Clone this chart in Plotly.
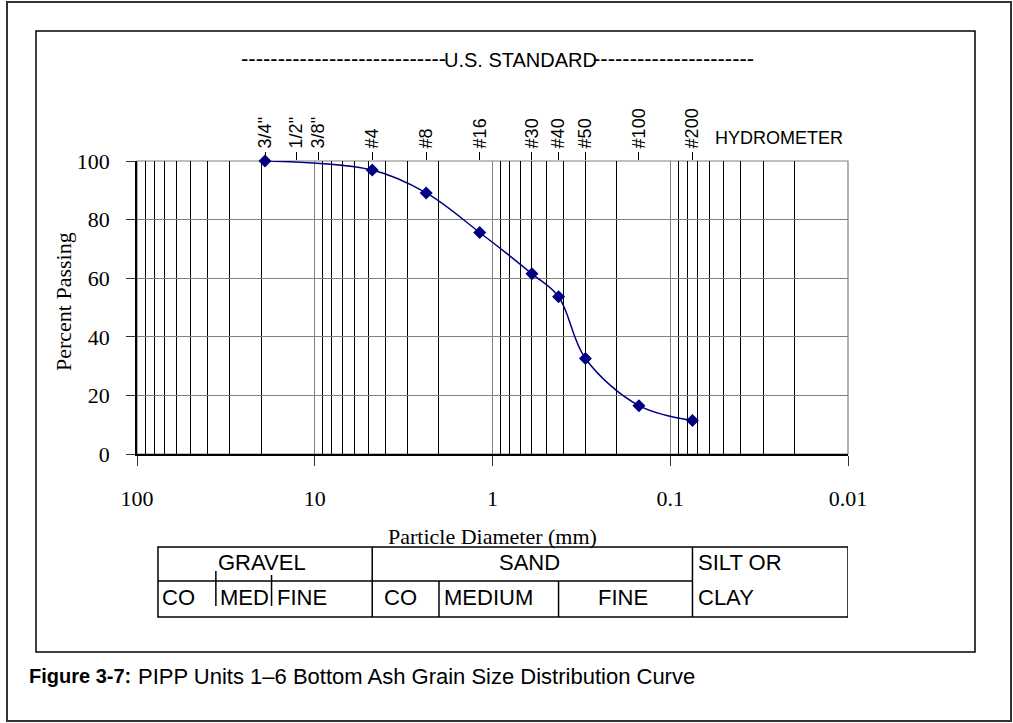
import numpy as np
import plotly.graph_objects as go

# ---------------- data ----------------
sieve_labels = ['3/4"', '1/2"', '3/8"', '#4', '#8', '#16', '#30', '#40', '#50', '#100', '#200']
sieve_mm = [19.05, 12.7, 9.525, 4.75, 2.36, 1.18, 0.6, 0.425, 0.3, 0.15, 0.075]

test_sieve_mm = [19.05, 4.75, 2.36, 1.18, 0.6, 0.425, 0.3, 0.15, 0.075]
percent_passing = [100, 96.9, 89.1, 75.6, 61.5, 53.7, 32.6, 16.5, 11.4]

x_tick_vals = [100, 10, 1, 0.1, 0.01]
x_tick_text = ["100", "10", "1", "0.1", "0.01"]
y_tick_vals = [0, 20, 40, 60, 80, 100]

# soil classification table below the chart
main_labels = ["GRAVEL", "SAND"]
main_bounds_mm = [76.2, 4.75, 0.075]
sub_labels = ["CO", "MED", "FINE", "CO", "MEDIUM", "FINE"]
sub_bounds_mm = [76.2, 36.0, 17.5, 4.75, 2.0, 0.425, 0.075]
fines_label = ["SILT OR", "CLAY"]
table_end_mm = 0.01

# ---------------- geometry helpers ----------------
W, H = 1013, 723
L, R, T, B = 137, 848, 161, 454


def px(x):
    return (x - L) / (R - L)


def py(y):
    return (B - y) / (B - T)


def lx(v):
    return float(np.log10(v))


ARIAL = "Liberation Sans, Arial, sans-serif"
TIMES = "Liberation Serif, Times New Roman, serif"
NAVY = "#000080"

fig = go.Figure()
fig.add_trace(go.Scatter(
    x=test_sieve_mm, y=percent_passing, mode="lines+markers",
    line=dict(color=NAVY, width=1.5, shape="spline", smoothing=1.0),
    marker=dict(symbol="diamond", size=10, color=NAVY),
    showlegend=False, cliponaxis=False, hoverinfo="x+y"))
fig.add_trace(go.Scatter(
    x=sieve_mm, y=[None] * len(sieve_mm), xaxis="x2", mode="markers",
    showlegend=False, hoverinfo="skip"))

shapes = []
# outer and inner frames
shapes.append(dict(type="rect", xref="paper", yref="paper",
                   x0=px(7), x1=px(1011), y0=py(721), y1=py(2),
                   line=dict(color="#333333", width=2), layer="below"))
shapes.append(dict(type="rect", xref="paper", yref="paper",
                   x0=px(36), x1=px(975), y0=py(652), y1=py(31),
                   line=dict(color="black", width=1.5), layer="below"))
# plot-area frame (gray top/right)
shapes.append(dict(type="rect", xref="paper", yref="paper",
                   x0=0, x1=1, y0=0, y1=1,
                   line=dict(color="#808080", width=1.2), layer="below"))

# table (shape x values are data values on the log axis)
t_top, t_mid, t_bot = py(547), py(581), py(617)
tl = dict(color="black", width=1.5)
shapes.append(dict(type="rect", xref="x", yref="paper",
                   x0=main_bounds_mm[0], x1=table_end_mm, y0=t_bot, y1=t_top, line=tl))
shapes.append(dict(type="line", xref="x", yref="paper",
                   x0=main_bounds_mm[0], x1=main_bounds_mm[-1], y0=t_mid, y1=t_mid, line=tl))
for b in main_bounds_mm[1:]:
    shapes.append(dict(type="line", xref="x", yref="paper",
                       x0=b, x1=b, y0=t_bot, y1=t_top, line=tl))
# sand sub-dividers
for b in sub_bounds_mm[4:6]:
    shapes.append(dict(type="line", xref="x", yref="paper",
                       x0=b, x1=b, y0=t_bot, y1=t_mid, line=tl))
# gravel sub-dividers (short)
shapes.append(dict(type="line", xref="x", yref="paper",
                   x0=sub_bounds_mm[1], x1=sub_bounds_mm[1], y0=py(606), y1=py(571), line=tl))
shapes.append(dict(type="line", xref="x", yref="paper",
                   x0=sub_bounds_mm[2], x1=sub_bounds_mm[2], y0=py(606), y1=py(575), line=tl))

ann = []
tfont = dict(family=ARIAL, size=22, color="black")
row1_y, row2_y = py(562), py(597)
for i, lab in enumerate(main_labels):
    cx = (lx(main_bounds_mm[i]) + lx(main_bounds_mm[i + 1])) / 2
    ann.append(dict(x=cx, y=row1_y, xref="x", yref="paper", text=lab, showarrow=False,
                    xanchor="center", yanchor="middle", xshift=-3, font=tfont))
ann.append(dict(x=lx(main_bounds_mm[-1]), y=row1_y, xref="x", yref="paper", text=fines_label[0],
                showarrow=False, xanchor="left", yanchor="middle", xshift=4, font=tfont))
ann.append(dict(x=lx(main_bounds_mm[-1]), y=row2_y, xref="x", yref="paper", text=fines_label[1],
                showarrow=False, xanchor="left", yanchor="middle", xshift=4, font=tfont))
sub_shift = [2, 2, 3, 10, 3, None]
for i, lab in enumerate(sub_labels):
    if sub_shift[i] is None:
        cx = (lx(sub_bounds_mm[i]) + lx(sub_bounds_mm[i + 1])) / 2
        ann.append(dict(x=cx, y=row2_y, xref="x", yref="paper", text=lab, showarrow=False,
                        xanchor="center", yanchor="middle", xshift=-3, font=tfont))
    else:
        ann.append(dict(x=lx(sub_bounds_mm[i]), y=row2_y, xref="x", yref="paper", text=lab,
                        showarrow=False, xanchor="left", yanchor="middle", xshift=sub_shift[i], font=tfont))

# titles and headers
ann.append(dict(x=px(492), y=py(536), xref="paper", yref="paper", text="Particle Diameter (mm)",
                showarrow=False, xanchor="center", yanchor="middle",
                font=dict(family=TIMES, size=22, color="black")))
ann.append(dict(x=px(63), y=py(302), xref="paper", yref="paper", text="Percent Passing",
                showarrow=False, xanchor="center", yanchor="middle", textangle=-90,
                font=dict(family=TIMES, size=22, color="black")))
ann.append(dict(x=px(713), y=py(138), xref="paper", yref="paper", text="HYDROMETER",
                showarrow=False, xanchor="left", yanchor="middle",
                font=dict(family=ARIAL, size=18, color="black")))
ann.append(dict(x=px(520), y=py(60), xref="paper", yref="paper", text="U.S. STANDARD",
                showarrow=False, xanchor="center", yanchor="middle",
                font=dict(family=ARIAL, size=20, color="black")))
ann.append(dict(x=px(445), y=py(58), xref="paper", yref="paper", text="-" * 28,
                showarrow=False, xanchor="right", yanchor="middle", xshift=3,
                font=dict(family=ARIAL, size=22, color="black")))
ann.append(dict(x=px(594), y=py(58), xref="paper", yref="paper", text="-" * 22,
                showarrow=False, xanchor="left", yanchor="middle", xshift=-3,
                font=dict(family=ARIAL, size=22, color="black")))
# caption
ann.append(dict(x=px(27), y=py(676), xref="paper", yref="paper",
                text="<b>Figure 3-7:</b>",
                showarrow=False, xanchor="left", yanchor="middle",
                font=dict(family=ARIAL, size=20, color="black")))
ann.append(dict(x=px(136), y=py(676), xref="paper", yref="paper",
                text="PIPP Units 1\u20136 Bottom Ash Grain Size Distribution Curve",
                showarrow=False, xanchor="left", yanchor="middle",
                font=dict(family=ARIAL, size=22, color="black")))

fig.update_layout(
    width=W, height=H,
    margin=dict(l=L, r=W - R, t=T, b=H - B, pad=0),
    paper_bgcolor="white", plot_bgcolor="white",
    showlegend=False,
    xaxis=dict(type="log", range=[2, -2], tickmode="array", tickvals=x_tick_vals, ticktext=x_tick_text,
               ticks="outside", ticklen=10, tickcolor="#333333", tickwidth=1.2,
               showline=True, linecolor="black", linewidth=1.5,
               showgrid=True, gridcolor="#808080", gridwidth=1, zeroline=False,
               minor=dict(dtick="D1", showgrid=True, gridcolor="black", gridwidth=1, ticks=""),
               tickfont=dict(family=TIMES, size=22, color="black"), ticklabelstandoff=14),
    xaxis2=dict(type="log", range=[2, -2], overlaying="x", side="top", anchor="y",
                tickmode="array", tickvals=sieve_mm, ticktext=sieve_labels, tickangle=-90,
                ticks="outside", ticklen=8, tickcolor="black", tickwidth=1.2,
                showgrid=False, showline=False, zeroline=False,
                tickfont=dict(family=ARIAL, size=18, color="black")),
    yaxis=dict(range=[0, 100], tickmode="array", tickvals=y_tick_vals,
               ticks="outside", ticklen=9, tickcolor="#333333", tickwidth=1.2,
               showline=True, linecolor="black", linewidth=1.5,
               showgrid=True, gridcolor="#808080", gridwidth=1, zeroline=False,
               tickfont=dict(family=TIMES, size=22, color="black"), ticklabelstandoff=12),
    shapes=shapes, annotations=ann,
)

fig.write_html("out.html", config={"displayModeBar": False},
               post_script="document.body.style.margin='0';document.body.style.overflow='hidden';")
